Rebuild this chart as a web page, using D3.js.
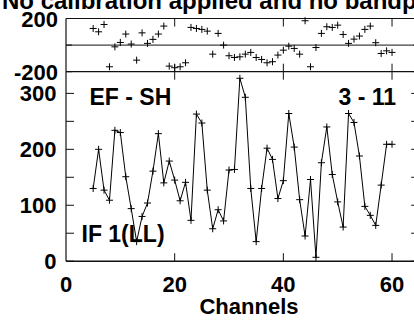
<!DOCTYPE html>
<html>
<head>
<meta charset="utf-8">
<script src="https://cdn.jsdelivr.net/npm/d3@7"></script>
<style>
html,body{margin:0;padding:0;background:#fff;}
svg{display:block;}
text{font-family:"Liberation Sans",Arial,Helvetica,sans-serif;font-weight:bold;fill:#000;}
</style>
</head>
<body>
<svg id="c" width="414" height="320"></svg>
<script>
// Data
const channels = d3.range(5, 61);
const amplitude = [130,200,127,109,234,230,151,94,35,80,104,161,228,140,179,145,108,141,73,263,247,127,58,92,72,163,164,
                   327,293,130,35,130,202,182,112,144,264,204,110,45,146,7,176,240,155,106,61,264,248,188,98,82,64,136,209,209];
const phase = [125,100,155,-163,-13,20,83,8,-113,92,13,43,83,143,-158,-170,-163,-133,133,125,118,105,-68,88,0,-80,-93,
               -88,-68,-55,-93,-108,-133,-125,-75,-38,-8,-25,-68,183,-163,-18,88,138,133,150,80,13,45,68,118,143,18,-63,-43,-55];
const xTicks = [0,20,40,60];
const ampTicks = [0,50,100,150,200,250,300];
const ampLabels = [0,100,200,300];
const phaseTicks = [-200,0,200];
const titleText = "No calibration applied and no bandpass";
const baselineText = "EF - SH";
const scanText = "3 - 11";
const ifText = "IF 1(LL)";
const xTitle = "Channels";

const svg = d3.select("#c");
const x = d3.scaleLinear().domain([0,65]).range([66,419.2]);
const yA = d3.scaleLinear().domain([0,340]).range([261.2,71.0]);
const yP = d3.scaleLinear().domain([-200,200]).range([71.7,18.5]);
const L = 66, R = 419.2;
const tk = 8;
const stroke = "#111";

// Frames
function hline(y, x1, x2, w){ svg.append("line").attr("x1",x1).attr("x2",x2).attr("y1",y).attr("y2",y).attr("stroke",stroke).attr("stroke-width",w||1.2); }
function vline(xx, y1, y2, w){ svg.append("line").attr("x1",xx).attr("x2",xx).attr("y1",y1).attr("y2",y2).attr("stroke",stroke).attr("stroke-width",w||1.2); }

// upper panel frame
hline(yP(200), L, R);
hline(yP(-200), L, R);
hline(yP(0), L, R, 1);
vline(L, yP(200), yA(0));
vline(R, yP(200), yA(0));
// lower bottom
hline(yA(0), L, R, 1.5);

// x ticks
xTicks.filter(d=>d>0).forEach(d=>{
  vline(x(d), yP(200), yP(200)+tk, 1);
  vline(x(d), yP(-200)-tk, yP(-200)+tk, 1);
  vline(x(d), yA(0)-tk, yA(0), 1);
});
// y ticks lower
ampTicks.forEach(d=>{
  hline(yA(d), L, L+tk, 1);
  hline(yA(d), R-tk, R, 1);
});
phaseTicks.forEach(d=>{
  hline(yP(d), L, L+6, 1);
  hline(yP(d), R-6, R, 1);
});

// Labels
const fs = 22;
svg.selectAll(".xl").data(xTicks).enter().append("text")
  .attr("x", d=>x(d)).attr("y", 291.5).attr("text-anchor","middle").attr("font-size",fs).text(d=>d);
svg.append("text").attr("x",249).attr("y",314).attr("text-anchor","middle").attr("font-size",fs).text(xTitle);
svg.selectAll(".yl").data(ampLabels).enter().append("text")
  .attr("x",56.5).attr("y",d=>yA(d)+8).attr("text-anchor","end").attr("font-size",fs).text(d=>d);
svg.selectAll(".pl").data(phaseTicks.filter(d=>d!==0)).enter().append("text")
  .attr("x",58).attr("y",d=>yP(d)+8).attr("text-anchor","end").attr("font-size",fs).text(d=>d);

svg.append("text").attr("x",2).attr("y",8.5).attr("font-size",24).text(titleText);
svg.append("text").attr("x",89.5).attr("y",105).attr("font-size",23).text(baselineText);
svg.append("text").attr("x",396).attr("y",104.5).attr("text-anchor","end").attr("font-size",23).text(scanText);
svg.append("text").attr("x",81.5).attr("y",241.7).attr("font-size",23).text(ifText);

// Amplitude line
const line = d3.line().x((d,i)=>x(channels[i])).y(d=>yA(d));
svg.append("path").datum(amplitude).attr("d",line).attr("fill","none").attr("stroke","#000").attr("stroke-width",1);

function plus(g, cx, cy){
  const s = 3.5;
  g.append("line").attr("x1",cx-s).attr("x2",cx+s).attr("y1",cy).attr("y2",cy).attr("stroke","#000").attr("stroke-width",1);
  g.append("line").attr("x1",cx).attr("x2",cx).attr("y1",cy-s).attr("y2",cy+s).attr("stroke","#000").attr("stroke-width",1);
}
const gA = svg.append("g");
amplitude.forEach((v,i)=>plus(gA, x(channels[i]), yA(v)));
const gP = svg.append("g");
phase.forEach((v,i)=>plus(gP, x(channels[i]), yP(v)));
</script>
</body>
</html>
